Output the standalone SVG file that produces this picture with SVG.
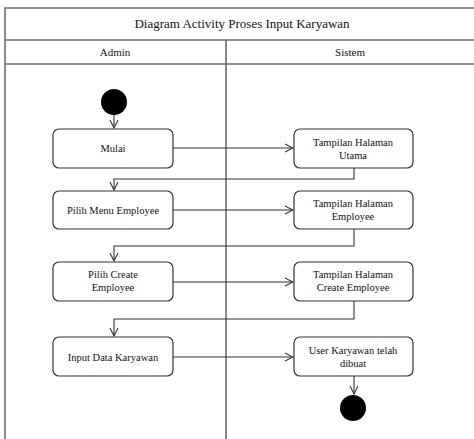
<svg xmlns="http://www.w3.org/2000/svg" width="474" height="439" viewBox="0 0 474 439">
<style>
.frame{fill:none;stroke:#6e6e6e;stroke-width:1.6}
.box{fill:#fff;stroke:#333;stroke-width:1.2}
.con{fill:none;stroke:#333;stroke-width:1.1}
.t{font-family:"Liberation Serif","Times New Roman",serif;font-size:10.5px;fill:#111;text-anchor:middle}
.h{font-family:"Liberation Serif","Times New Roman",serif;font-size:11px;fill:#111;text-anchor:middle}
.title{font-family:"Liberation Serif","Times New Roman",serif;font-size:13px;fill:#111;text-anchor:middle}
</style>
<defs>
<marker id="arr" markerWidth="10" markerHeight="10" refX="9" refY="5" orient="auto" markerUnits="userSpaceOnUse">
<path d="M1,1 L9,5 L1,9" fill="none" stroke="#333" stroke-width="1.1"/>
</marker>
</defs>
<rect width="474" height="439" fill="#fff"/>
<g id="frame">
<path class="frame" d="M5,440 V8 H480 M5,40 H480 M5,64 H480 M226,40 V440"/>
<text class="title" x="242" y="28">Diagram  Activity Proses Input Karyawan</text>
<text class="h" x="115" y="56">Admin</text>
<text class="h" x="350" y="56">Sistem</text>
</g>
<g id="connectors">
<path class="con" d="M114,115 V128" marker-end="url(#arr)"/>
<path class="con" d="M173,148 H293" marker-end="url(#arr)"/>
<path class="con" d="M354,168 V179 H114 V190" marker-end="url(#arr)"/>
<path class="con" d="M173,210 H293" marker-end="url(#arr)"/>
<path class="con" d="M354,229 V246 H114 V261" marker-end="url(#arr)"/>
<path class="con" d="M173,282 H293" marker-end="url(#arr)"/>
<path class="con" d="M354,301 V319 H114 V336" marker-end="url(#arr)"/>
<path class="con" d="M173,357 H293" marker-end="url(#arr)"/>
<path class="con" d="M354,376 V394" marker-end="url(#arr)"/>
</g>
<g id="start"><circle cx="114" cy="102" r="13" fill="#000"/></g>
<g id="mulai"><rect class="box" x="53" y="129" width="120" height="39" rx="6"/><text class="t" x="113" y="152">Mulai</text></g>
<g id="utama"><rect class="box" x="294" y="129" width="119" height="39" rx="6"/><text class="t" x="353" y="146">Tampilan Halaman</text><text class="t" x="353" y="159">Utama</text></g>
<g id="pilihmenu"><rect class="box" x="53" y="191" width="120" height="38" rx="6"/><text class="t" x="113" y="214">Pilih Menu Employee</text></g>
<g id="employee"><rect class="box" x="294" y="191" width="119" height="38" rx="6"/><text class="t" x="353" y="207">Tampilan Halaman</text><text class="t" x="353" y="220">Employee</text></g>
<g id="pilihcreate"><rect class="box" x="53" y="262" width="120" height="39" rx="6"/><text class="t" x="113" y="278">Pilih Create</text><text class="t" x="113" y="291">Employee</text></g>
<g id="create"><rect class="box" x="294" y="262" width="119" height="39" rx="6"/><text class="t" x="353" y="278">Tampilan Halaman</text><text class="t" x="353" y="291">Create  Employee</text></g>
<g id="input"><rect class="box" x="53" y="337" width="120" height="39" rx="6"/><text class="t" x="113" y="361">Input Data Karyawan</text></g>
<g id="user"><rect class="box" x="294" y="337" width="119" height="39" rx="6"/><text class="t" x="353" y="354">User  Karyawan  telah</text><text class="t" x="353" y="367">dibuat</text></g>
<g id="end"><circle cx="353" cy="408" r="13" fill="#000"/></g>
</svg>
